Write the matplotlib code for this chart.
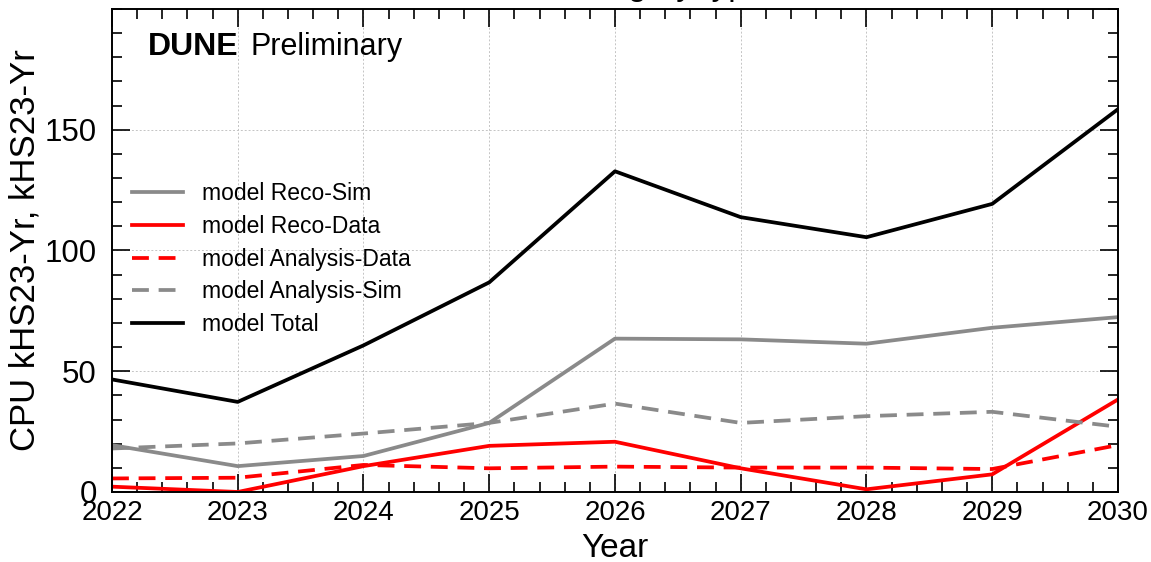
import numpy as np
import matplotlib

matplotlib.use('Agg')
import matplotlib.pyplot as plt
from matplotlib.ticker import MultipleLocator

# CPU needs per category, kHS23-Yr
years = [2022, 2023, 2024, 2025, 2026, 2027, 2028, 2029, 2030]
reco_sim = [19.4, 10.7, 14.9, 28.6, 63.5, 63.2, 61.4, 68.0, 72.4]
reco_data = [2.2, 0.0, 10.7, 19.1, 20.8, 9.8, 1.1, 7.3, 38.3]
analysis_data = [5.6, 5.9, 11.2, 9.8, 10.5, 10.1, 10.1, 9.5, 19.4]
analysis_sim = [18.0, 20.1, 24.2, 28.6, 36.6, 28.6, 31.4, 33.2, 27.0]
total = [46.6, 37.3, 60.7, 86.8, 132.8, 113.8, 105.5, 119.3, 158.5]

plt.rcParams['font.family'] = ['Liberation Sans', 'DejaVu Sans']

fig = plt.figure(figsize=(11.51, 5.62), dpi=100)
ax = fig.add_axes([0.0973, 0.1246, 0.874, 0.8594])

gray = '#8a8a8a'
lw = 2.7
ax.plot(years, reco_sim, color=gray, lw=lw, label='model Reco-Sim')
ax.plot(years, reco_data, color='red', lw=lw, label='model Reco-Data')
ax.plot(years, analysis_data, color='red', lw=lw, dashes=(4.5, 2.6), label='model Analysis-Data')
ax.plot(years, analysis_sim, color=gray, lw=lw, dashes=(4.5, 2.6), label='model Analysis-Sim')
ax.plot(years, total, color='black', lw=lw, label='model Total')

ax.set_xlim(2022, 2030)
ax.set_ylim(0, 200)
ax.xaxis.set_major_locator(MultipleLocator(1))
ax.xaxis.set_minor_locator(MultipleLocator(0.2))
ax.set_yticks([0, 50, 100, 150])
ax.yaxis.set_minor_locator(MultipleLocator(10))

ax.tick_params(which='both', direction='in', top=True, right=True, width=1.2)
ax.tick_params(which='major', length=13)
ax.tick_params(which='minor', length=7)
ax.tick_params(axis='x', which='major', labelsize=20, pad=6)
ax.tick_params(axis='y', which='major', labelsize=22.5, pad=11)
ax.grid(True, which='major', color='#c4c4c4', linestyle=(0, (2, 2)), lw=0.7)
for s in ax.spines.values():
    s.set_linewidth(1.4)

ax.set_xlabel('Year', fontsize=24, labelpad=5)
ax.set_ylabel('CPU kHS23-Yr, kHS23-Yr', fontsize=25, labelpad=2)

ax.text(0.036, 0.905, 'DUNE', transform=ax.transAxes, fontsize=23,
        fontweight='bold', va='baseline')
ax.text(0.138, 0.905, 'Preliminary', transform=ax.transAxes, fontsize=22,
        va='baseline')

ax.legend(loc='upper left', bbox_to_anchor=(0.02, 0.642), frameon=False,
          fontsize=16.5, handlelength=2.2, handletextpad=0.85, labelspacing=0.43,
          borderpad=0.0, borderaxespad=0.0)

# title sits above the canvas, only its lower part is shown
fig.text(0.665, 0.997, 'CPU Model Category type', ha='right', va='bottom',
         fontsize=24)

fig.savefig('out.png', dpi=100)
